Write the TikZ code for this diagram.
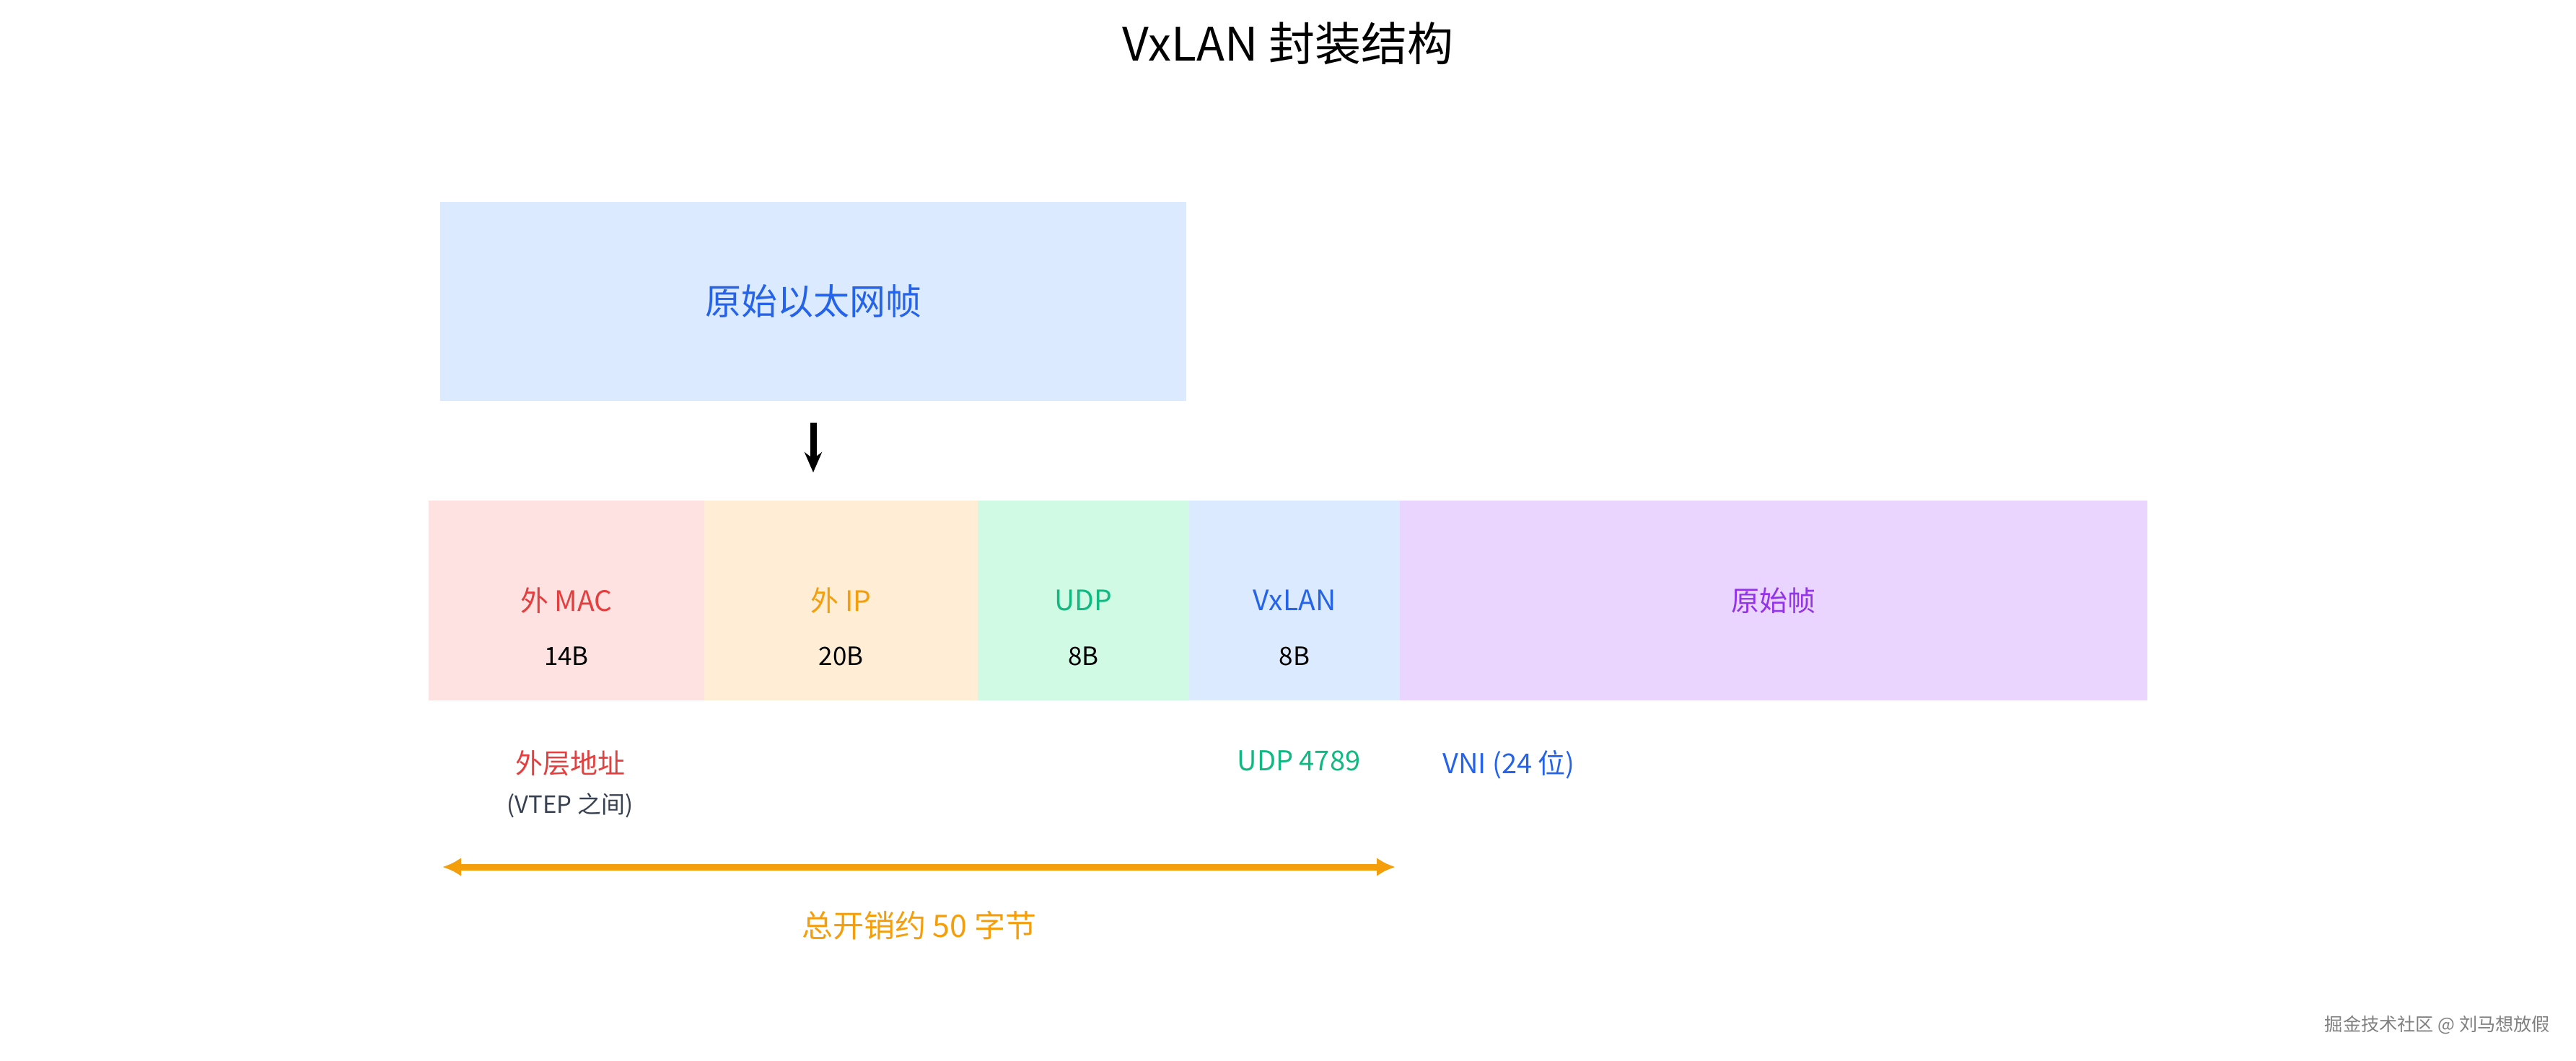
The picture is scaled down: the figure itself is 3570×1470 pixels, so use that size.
\documentclass[tikz,border=0pt]{standalone}
\usepackage{fontspec}
\setmainfont{Noto Sans CJK SC}
\usetikzlibrary{arrows.meta,positioning}
\definecolor{macbg}{HTML}{FEE2E2}
\definecolor{macfg}{HTML}{E53E3E}
\definecolor{ipbg}{HTML}{FFEDD5}
\definecolor{ipfg}{HTML}{F59E0B}
\definecolor{udpbg}{HTML}{D1FAE5}
\definecolor{udpfg}{HTML}{10B981}
\definecolor{vxbg}{HTML}{DBEAFE}
\definecolor{vxfg}{HTML}{2563EB}
\definecolor{innerbg}{HTML}{E9D5FF}
\definecolor{innerfg}{HTML}{9333EA}
\definecolor{subgray}{HTML}{374151}
\begin{document}
\begin{tikzpicture}[x=0.25pt,y=-0.25pt,
  field/.style={inner sep=0pt,outer sep=0pt,minimum height=69.25pt,font=\fontsize{9.75}{12}\selectfont},
  bytes/.style={inner sep=0pt,font=\fontsize{8.75}{10}\selectfont},
  note/.style={inner sep=0pt,font=\fontsize{9.5}{11}\selectfont}]
\pgfmathsetmacro{\hy}{832.5}
\pgfmathsetmacro{\oy}{1202}
\useasboundingbox (0,0) rectangle (3570,1470);
%title
\node[font=\fontsize{16}{19}\selectfont] (title) at (1785,60) {VxLAN 封装结构};
%original frame
\node[fill=vxbg,text=vxfg,inner sep=0pt,minimum width=258.5pt,minimum height=69pt,font=\fontsize{12.5}{15}\selectfont] (frame) at (1127,418) {原始以太网帧};
%header fields
\node[field,fill=macbg,text=macfg,minimum width=95.5pt] (mac) at (785,\hy) {外 MAC};
\node[field,fill=ipbg,text=ipfg,minimum width=94.75pt,right=0pt of mac] (ip) {外 IP};
\node[field,fill=udpbg,text=udpfg,minimum width=73.25pt,right=0pt of ip] (udp) {UDP};
\node[field,fill=vxbg,text=vxfg,minimum width=73pt,right=0pt of udp] (vx) {VxLAN};
\node[field,fill=innerbg,text=innerfg,minimum width=259pt,right=0pt of vx] (inner) {原始帧};
%sizes
\node[bytes] (macsz) at ([yshift=-19.25pt]mac.center) {14B};
\node[bytes] (ipsz) at ([yshift=-19.25pt]ip.center) {20B};
\node[bytes] (udpsz) at ([yshift=-19.25pt]udp.center) {8B};
\node[bytes] (vxsz) at ([yshift=-19.25pt]vx.center) {8B};
%encapsulation arrow
\draw[-{Stealth[length=7pt,width=6pt]},line width=2.25pt,shorten <=7.25pt,shorten >=9.75pt] (frame.south) -- (frame.south |- mac.north);
%notes
\node[note,text=macfg] (outer) at (790,1058) {外层地址};
\node[inner sep=0pt,text=subgray,font=\fontsize{8.25}{10}\selectfont] (vtep) at (790,1117) {(VTEP 之间)};
\node[note,text=udpfg] (port) at (1800,1055) {UDP 4789};
\node[note,text=vxfg] (vni) at (2091,1060) {VNI (24 位)};
%overhead
\coordinate (ohl) at (613,\oy);
\coordinate (ohr) at (1934,\oy);
\draw[{Latex[length=6.5pt,width=6.5pt]}-{Latex[length=6.5pt,width=6.5pt]},line width=2.25pt,draw=ipfg] (ohl) -- (ohr) node[midway,yshift=-20.25pt,text=ipfg,inner sep=0pt,font=\fontsize{10.75}{13}\selectfont] (ohtxt) {总开销约 50 字节};
%watermark
\node[text=gray,inner sep=0pt,font=\fontsize{6.3}{7}\selectfont] (mark) at (3378,1421) {掘金技术社区 @ 刘马想放假};
\end{tikzpicture}
\end{document}
